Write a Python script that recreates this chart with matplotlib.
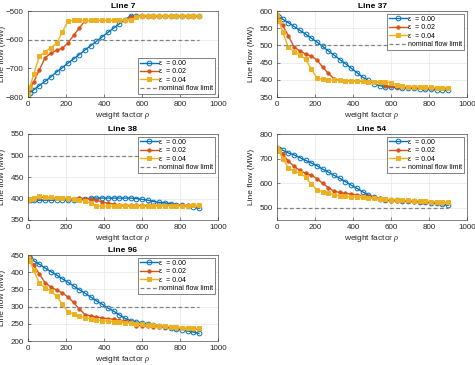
import matplotlib.pyplot as plt

plt.rcParams['font.family'] = ['Liberation Sans', 'DejaVu Sans']
plt.rcParams['mathtext.fontset'] = 'custom'
plt.rcParams['mathtext.it'] = 'Liberation Serif:italic'

# weight factor rho
rho = [0, 10, 30, 60, 90, 120, 150, 180, 210, 240, 270, 300, 330, 360, 390, 420,
       450, 480, 510, 540, 570, 600, 630, 660, 690, 720, 750, 780, 810, 840, 870, 900]

eps_labels = ['\u03b5  = 0.00', '\u03b5  = 0.02', '\u03b5  = 0.04']

# line flows (MW) for eps = 0.00, 0.02, 0.04
line7_e0 = [-790, -785, -775, -760, -745, -730, -713, -698, -682, -667, -652, -636, -621, -606, -590, -575,
            -560, -545, -530, -517, -518, -518, -518, -518, -518, -518, -518, -518, -518, -518, -518, -518]
line7_e2 = [-790, -768, -748, -705, -663, -648, -637, -630, -612, -585, -560, -534, -533, -533, -533, -533,
            -533, -533, -533, -520, -518, -518, -518, -518, -518, -518, -518, -518, -518, -518, -518, -518]
line7_e4 = [-790, -765, -720, -657, -643, -628, -613, -575, -535, -533, -533, -533, -533, -533, -533, -533,
            -533, -533, -533, -530, -522, -517, -517, -517, -517, -517, -517, -517, -517, -517, -517, -517]

line37_e0 = [587, 583, 576, 566, 555, 544, 533, 521, 510, 497, 484, 472, 459, 447, 434, 421,
             408, 398, 389, 383, 380, 379, 378, 377, 376, 375, 374, 373, 372, 371, 370, 369]
line37_e2 = [588, 578, 558, 528, 495, 484, 475, 469, 458, 437, 419, 403, 398, 397, 397, 396,
             396, 395, 395, 394, 383, 381, 380, 379, 379, 378, 378, 377, 377, 376, 376, 375]
line37_e4 = [588, 572, 539, 494, 482, 473, 460, 432, 405, 401, 400, 399, 398, 397, 397, 396,
             396, 395, 394, 394, 393, 392, 385, 382, 380, 379, 379, 378, 378, 377, 377, 376]

line38_e0 = [396, 396, 396, 396, 396, 396, 396, 396, 396, 397, 398, 398, 401, 401, 401, 401,
             401, 401, 401, 401, 400, 398, 396, 393, 391, 390, 388, 386, 384, 382, 380, 377]
line38_e2 = [397, 398, 400, 403, 402, 402, 401, 401, 400, 400, 401, 400, 399, 396, 392, 389,
             387, 385, 384, 384, 384, 384, 384, 384, 384, 384, 384, 384, 384, 384, 384, 383]
line38_e4 = [397, 398, 401, 405, 404, 403, 402, 401, 401, 399, 396, 395, 389, 383, 382, 382,
             382, 382, 382, 382, 382, 382, 382, 382, 383, 383, 383, 383, 383, 383, 384, 384]

line54_e0 = [744, 740, 734, 723, 715, 704, 693, 682, 671, 657, 645, 632, 620, 606, 592, 579,
             565, 552, 543, 537, 533, 532, 530, 529, 528, 527, 525, 523, 521, 518, 514, 510]
line54_e2 = [743, 733, 718, 690, 668, 652, 640, 633, 618, 600, 582, 567, 562, 558, 555, 552,
             549, 546, 543, 540, 530, 529, 528, 527, 526, 525, 524, 523, 522, 521, 521, 520]
line54_e4 = [743, 730, 700, 662, 650, 640, 625, 597, 573, 565, 560, 553, 548, 546, 544, 543,
             542, 540, 538, 537, 535, 533, 532, 531, 530, 529, 528, 527, 525, 524, 523, 522]

line96_e0 = [444, 440, 433, 423, 412, 402, 392, 381, 371, 360, 349, 339, 328, 317, 307, 296,
             287, 276, 266, 259, 255, 253, 250, 247, 244, 241, 238, 235, 232, 229, 226, 222]
line96_e2 = [444, 437, 420, 395, 369, 357, 348, 340, 328, 312, 293, 277, 273, 270, 267, 265,
             263, 260, 257, 255, 245, 244, 243, 242, 242, 241, 240, 239, 238, 237, 236, 234]
line96_e4 = [444, 432, 405, 368, 355, 345, 330, 307, 285, 278, 272, 268, 264, 261, 259, 257,
             256, 254, 253, 252, 250, 249, 247, 246, 244, 243, 242, 240, 239, 238, 237, 237]

titles = ['Line 7', 'Line 37', 'Line 38', 'Line 54', 'Line 96']
limits = [-600, 500, 500, 500, 300]
ylims = [(-800, -500), (350, 600), (350, 550), (450, 800), (200, 450)]
yticks = [[-800, -700, -600, -500], [350, 400, 450, 500, 550, 600],
          [350, 400, 450, 500, 550], [500, 600, 700, 800], [200, 250, 300, 350, 400, 450]]
flows = [(line7_e0, line7_e2, line7_e4), (line37_e0, line37_e2, line37_e4),
         (line38_e0, line38_e2, line38_e4), (line54_e0, line54_e2, line54_e4),
         (line96_e0, line96_e2, line96_e4)]
legend_loc = ['lower right', 'upper right', 'upper right', 'upper right', 'upper right']

colors = ['#0072BD', '#D95319', '#EDB120']
markers = ['o', '.', 's']
msizes = [3.4, 4.8, 3.4]

W, H = 475, 365
boxes = [(28, 11), (277, 11), (28, 134), (277, 134), (28, 255)]
aw, ah = 190, 86
txt = '#262626'

fig = plt.figure(figsize=(W / 100, H / 100), dpi=100)

for k in range(5):
    x0, y0 = boxes[k]
    ax = fig.add_axes([x0 / W, (H - y0 - ah) / H, aw / W, ah / H])
    for j in range(3):
        mfc = 'none' if markers[j] == 'o' else colors[j]
        ax.plot(rho, flows[k][j], color=colors[j], marker=markers[j], ms=msizes[j],
                mfc=mfc, mew=0.7, lw=1.0, label=eps_labels[j])
    ax.plot([rho[0], rho[-1]], [limits[k], limits[k]], '--', color='#808080', lw=0.9,
            dashes=(3, 2), label='nominal flow limit')
    ax.set_xlim(0, 1000)
    ax.set_ylim(*ylims[k])
    ax.set_xticks([0, 200, 400, 600, 800, 1000])
    ax.set_yticks(yticks[k])
    ax.grid(True, color='#e6e6e6', lw=0.5)
    ax.set_axisbelow(True)
    ax.tick_params(direction='in', labelsize=5.8, length=2, width=0.4, colors=txt, pad=3)
    for s in ax.spines.values():
        s.set_linewidth(0.4)
        s.set_color(txt)
    ax.set_title(titles[k], fontsize=6, fontweight='bold', pad=2)
    ax.set_xlabel('weight factor $\\rho$', fontsize=6, labelpad=1.5, color=txt)
    ax.set_ylabel('Line flow (MW)', fontsize=6, color=txt)
    ax.yaxis.set_label_coords(-0.115, 0.5)
    leg = ax.legend(loc=legend_loc[k], fontsize=5, handlelength=2.6, handletextpad=0.1,
                    labelspacing=0.2, borderpad=0.3, fancybox=False, framealpha=1,
                    borderaxespad=0.4)
    leg.get_frame().set_edgecolor(txt)
    leg.get_frame().set_linewidth(0.4)

fig.savefig('out.png', dpi=100)
